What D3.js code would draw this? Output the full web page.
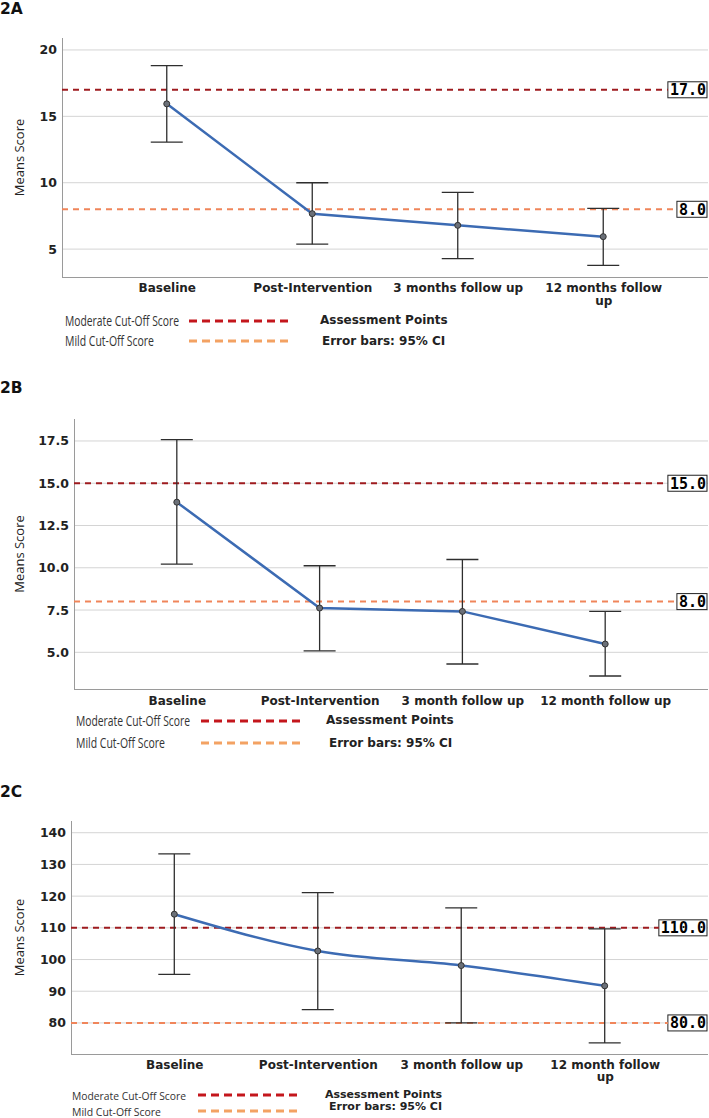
<!DOCTYPE html>
<html><head><meta charset="utf-8">
<script src="https://cdn.jsdelivr.net/npm/d3@7"></script>
<style>
body{margin:0;background:#fff;}
svg{display:block;}
</style></head>
<body>
<svg id="chart" width="709" height="1118"></svg>
<script>
// ---------- DATA ----------
const categoriesA = ["Baseline", "Post-Intervention", "3 months follow up", "12 months follow up"];
const categoriesB = ["Baseline", "Post-Intervention", "3 month follow up", "12 month follow up"];
const categoriesC = ["Baseline", "Post-Intervention", "3 month follow up", "12 month follow up"];

const meanA  = [15.94, 7.67, 6.79, 5.94];
const lowerA = [13.06, 5.37, 4.29, 3.78];
const upperA = [18.82, 10.0, 9.27, 8.07];

const meanB  = [13.88, 7.62, 7.42, 5.49];
const lowerB = [10.22, 5.09, 4.31, 3.60];
const upperB = [17.58, 10.12, 10.49, 7.42];

const meanC  = [114.3, 102.7, 98.1, 91.7];
const lowerC = [95.3, 84.2, 80.0, 73.7];
const upperC = [133.3, 121.1, 116.3, 109.7];

const ticksA = [5, 10, 15, 20];
const ticksB = [5.0, 7.5, 10.0, 12.5, 15.0, 17.5];
const ticksC = [80, 90, 100, 110, 120, 130, 140];

const cutoffsA = [17.0, 8.0];   // moderate, mild
const cutoffsB = [15.0, 8.0];
const cutoffsC = [110.0, 80.0];

const panelTitles = ["2A", "2B", "2C"];
const legendLabels = ["Moderate Cut-Off Score", "Mild Cut-Off Score"];
const legendNotes = ["Assessment Points", "Error bars: 95% CI"];
const yAxisTitle = "Means Score";

// ---------- STYLE ----------
const COL_LINE = "#3c6bb3";
const COL_MOD = "#9e1b1f";
const COL_MILD = "#f0855a";
const COL_LEG_MOD = "#c4161c";
const COL_LEG_MILD = "#f3a263";
const COL_GRID = "#d4d4d4";
const COL_AXIS = "#9a9a9a";
const COL_ERR = "#2e2e2e";
const LEGEND_WIDTHS = [114, 89];

const svg = d3.select("#chart");

function drawPanel(cfg) {
  const g = svg.append("g");
  const y = d3.scaleLinear().domain(cfg.domain).range([cfg.bottom, cfg.top]);
  const x = d3.scalePoint().domain(cfg.categories).range([cfg.left, cfg.right]).padding(0.72);

  // title
  g.append("text").attr("x", 0).attr("y", cfg.titleY)
    .attr("font-family", "DejaVu Sans, sans-serif").attr("font-weight", "bold")
    .attr("font-size", 15.5).attr("fill", "#111").text(cfg.title);

  // gridlines
  g.selectAll(".grid").data(cfg.ticks).join("line")
    .attr("x1", cfg.left).attr("x2", cfg.right)
    .attr("y1", d => y(d)).attr("y2", d => y(d))
    .attr("stroke", COL_GRID).attr("stroke-width", 1);

  // y axis
  const yAxis = d3.axisLeft(y).tickValues(cfg.ticks).tickSize(0).tickPadding(5)
    .tickFormat(cfg.tickFormat);
  const ya = g.append("g").attr("transform", `translate(${cfg.left},0)`).call(yAxis);
  ya.select(".domain").attr("stroke", COL_AXIS).attr("d", `M0.5,${cfg.top}V${cfg.bottom}`);
  ya.selectAll("text").attr("font-family", "DejaVu Sans, sans-serif")
    .attr("font-weight", "bold").attr("font-size", 12.5).attr("fill", "#222");

  // x axis
  const xAxis = d3.axisBottom(x).tickSize(0).tickPadding(0);
  const xa = g.append("g").attr("transform", `translate(0,${cfg.bottom})`).call(xAxis);
  xa.select(".domain").attr("stroke", COL_AXIS).attr("d", `M${cfg.left},0.5H${cfg.right}`);
  xa.selectAll("text").attr("font-family", "DejaVu Sans, sans-serif")
    .attr("font-weight", "bold").attr("font-size", 12).attr("fill", "#222")
    .attr("dy", null).attr("y", cfg.xLabelY - cfg.bottom)
    .each(function (d) {
      const t = d3.select(this);
      const words = d.split(" ");
      t.text(null);
      let line = [];
      let tspan = t.append("tspan").attr("x", 0);
      for (const w of words) {
        line.push(w);
        tspan.text(line.join(" "));
        if (tspan.node().getComputedTextLength() > cfg.wrap && line.length > 1) {
          line.pop();
          tspan.text(line.join(" "));
          line = [w];
          tspan = t.append("tspan").attr("x", 0).attr("dy", 12.5).text(w);
        }
      }
    });

  // y-axis title
  g.append("text")
    .attr("transform", `translate(${cfg.yTitleX},${(cfg.top + cfg.bottom) / 2}) rotate(-90)`)
    .attr("text-anchor", "middle").attr("font-family", "Open Sans, sans-serif")
    .attr("font-size", 13).attr("fill", "#222").text(yAxisTitle);

  // cut-off lines with boxed labels
  const cutCols = [COL_MOD, COL_MILD];
  cfg.cutoffs.forEach((v, i) => {
    const label = v.toFixed(1);
    const lbl = g.append("text").attr("font-family", "DejaVu Sans Mono, monospace")
      .attr("font-weight", "bold")
      .attr("font-size", 15).attr("fill", "#000").attr("text-anchor", "end")
      .attr("x", cfg.right - 2).attr("y", y(v) + 5.5).text(label);
    const w = lbl.node().getComputedTextLength();
    const bx = cfg.right - 3 - w - 1;
    g.append("line").attr("x1", cfg.left).attr("x2", bx)
      .attr("y1", y(v)).attr("y2", y(v))
      .attr("stroke", cutCols[i]).attr("stroke-width", 2).attr("stroke-dasharray", "6,5");
    g.insert("rect", () => lbl.node())
      .attr("x", bx).attr("y", y(v) - 8).attr("width", w + 3).attr("height", 16)
      .attr("fill", "#fff").attr("stroke", "#222").attr("stroke-width", 1);
  });

  // error bars
  const cap = 16;
  cfg.categories.forEach((c, i) => {
    const cx = x(c);
    const eg = g.append("g").attr("stroke", COL_ERR).attr("stroke-width", 1.3);
    eg.append("line").attr("x1", cx).attr("x2", cx).attr("y1", y(cfg.upper[i])).attr("y2", y(cfg.lower[i]));
    eg.append("line").attr("x1", cx - cap).attr("x2", cx + cap).attr("y1", y(cfg.upper[i])).attr("y2", y(cfg.upper[i]));
    eg.append("line").attr("x1", cx - cap).attr("x2", cx + cap).attr("y1", y(cfg.lower[i])).attr("y2", y(cfg.lower[i]));
  });

  // mean line
  const pts = cfg.categories.map((c, i) => [x(c), y(cfg.mean[i])]);
  g.append("path").attr("d", d3.line().curve(cfg.curve || d3.curveLinear)(pts))
    .attr("fill", "none").attr("stroke", COL_LINE).attr("stroke-width", 2.5);
  g.selectAll(".pt").data(pts).join("circle")
    .attr("cx", d => d[0]).attr("cy", d => d[1]).attr("r", 3)
    .attr("fill", "#6b7078").attr("stroke", "#333").attr("stroke-width", 1);

  // legend
  const L = cfg.legend;
  const legCols = [COL_LEG_MOD, COL_LEG_MILD];
  legendLabels.forEach((t, i) => {
    const yy = L.rows[i];
    g.append("text").attr("x", L.textX).attr("y", yy + 4.5)
      .attr("font-family", "Open Sans, sans-serif")
      .attr("font-size", L.textSize || 14.5).attr("fill", "#333")
      .attr("textLength", LEGEND_WIDTHS[i]).attr("lengthAdjust", "spacingAndGlyphs")
      .text(t);
    g.append("line").attr("x1", L.dashX1).attr("x2", L.dashX2).attr("y1", yy).attr("y2", yy)
      .attr("stroke", legCols[i]).attr("stroke-width", 3).attr("stroke-dasharray", "8,5");
  });
  legendNotes.forEach((t, i) => {
    g.append("text").attr("x", L.noteX[i]).attr("y", L.noteY[i] + 4)
      .attr("font-family", "DejaVu Sans, sans-serif").attr("font-weight", "bold")
      .attr("font-size", L.noteSize || 12).attr("fill", "#222").text(t);
  });
}

drawPanel({
  title: panelTitles[0], titleY: 14,
  categories: categoriesA, mean: meanA, lower: lowerA, upper: upperA,
  ticks: ticksA, tickFormat: d3.format("d"), cutoffs: cutoffsA,
  domain: [2.9, 20.9], left: 62, right: 708, top: 38, bottom: 277,
  xLabelY: 292, wrap: 133, yTitleX: 24,
  legend: { rows: [321, 341], textX: 65, dashX1: 189, dashX2: 291,
            noteX: [320, 322], noteY: [320, 341] }
});

drawPanel({
  title: panelTitles[1], titleY: 393,
  categories: categoriesB, mean: meanB, lower: lowerB, upper: upperB,
  ticks: ticksB, tickFormat: d3.format(".1f"), cutoffs: cutoffsB,
  domain: [2.83, 18.8], left: 74, right: 708, top: 419, bottom: 689,
  xLabelY: 704.5, wrap: 160, yTitleX: 24,
  legend: { rows: [721, 743], textX: 76, dashX1: 201, dashX2: 302,
            noteX: [326, 329], noteY: [720, 743] }
});

drawPanel({
  title: panelTitles[2], titleY: 797,
  categories: categoriesC, mean: meanC, lower: lowerC, upper: upperC,
  ticks: ticksC, tickFormat: d3.format("d"), cutoffs: cutoffsC,
  domain: [70.2, 143.7], left: 71, right: 708, top: 821, bottom: 1054,
  xLabelY: 1068.5, wrap: 125, yTitleX: 24, curve: d3.curveMonotoneX,
  legend: { rows: [1095, 1111], textX: 72, dashX1: 198, dashX2: 299, textSize: 11.5,
            noteX: [325, 329], noteY: [1094, 1106], noteSize: 11 }
});
</script>
</body></html>
